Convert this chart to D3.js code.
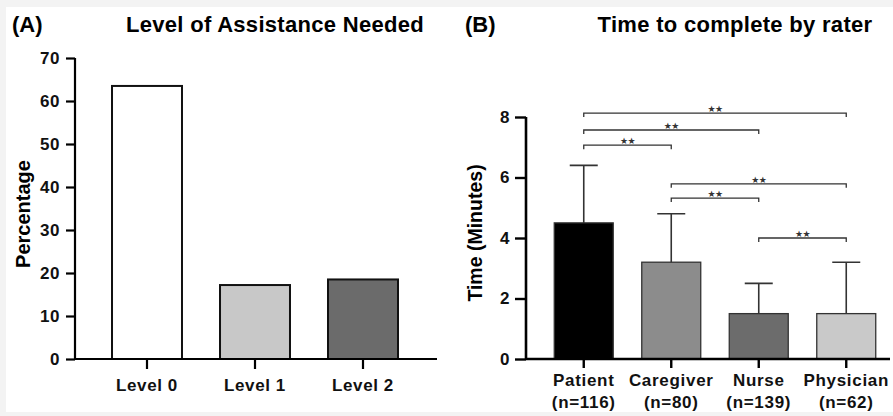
<!DOCTYPE html>
<html>
<head>
<meta charset="utf-8">
<script src="https://cdn.jsdelivr.net/npm/d3@7"></script>
<style>
  body { margin: 0; background: #f3f3f3; }
  svg { display: block; font-family: "Liberation Sans", Arial, sans-serif; font-weight: bold; }
</style>
</head>
<body>
<svg id="chart" width="893" height="416"></svg>
<script>
// panel A data
var levels = ["Level 0", "Level 1", "Level 2"];
var levelPct = [63.5, 17.2, 18.5];
var pctTicks = [0, 10, 20, 30, 40, 50, 60, 70];

// panel B data
var raters = ["Patient", "Caregiver", "Nurse", "Physician"];
var raterN = [116, 80, 139, 62];
var timeMean = [4.5, 3.2, 1.5, 1.5];
var timeUpper = [6.4, 4.8, 2.5, 3.2];   // mean + SD
var timeTicks = [0, 2, 4, 6, 8];

// significance brackets (index pairs + height in minutes)
var sigFrom = [0, 0, 0, 1, 1, 2];
var sigTo = [3, 2, 1, 3, 2, 3];
var sigLevel = [8.13, 7.57, 7.07, 5.79, 5.32, 4.0];
var sigLabel = "★★";

// styles
var levelFill = ["#ffffff", "#c8c8c8", "#6b6b6b"];
var raterFill = ["#000000", "#8c8c8c", "#6c6c6c", "#c9c9c9"];

var svg = d3.select("#chart");

svg.append("rect")
  .attr("x", 6).attr("y", 7)
  .attr("width", 887).attr("height", 405)
  .attr("fill", "#ffffff");

function styleTicks(ax, size) {
  ax.selectAll(".tick text")
    .style("font-size", size + "px")
    .style("font-family", "Liberation Sans, Arial")
    .style("font-weight", "bold")
    .style("letter-spacing", "0.6px")
    .attr("fill", "#111");
}

// ---------- panel A ----------
var yA = d3.scaleLinear().domain([0, 70]).range([359, 58]);
var xA = d3.scaleBand().domain(levels).range([93, 417])
  .paddingInner(0.352).paddingOuter(0.176);

svg.append("text").attr("x", 12).attr("y", 32)
  .style("font-size", "22px").text("(A)");
svg.append("text").attr("x", 275).attr("y", 32)
  .attr("text-anchor", "middle")
  .style("font-size", "22px").style("letter-spacing", "0.3px")
  .text("Level of Assistance Needed");

svg.append("g").selectAll("rect")
  .data(levels)
  .enter().append("rect")
  .attr("x", function(d) { return xA(d); })
  .attr("y", function(d, i) { return yA(levelPct[i]); })
  .attr("width", xA.bandwidth())
  .attr("height", function(d, i) { return yA(0) - yA(levelPct[i]); })
  .attr("fill", function(d, i) { return levelFill[i]; })
  .attr("stroke", "#111")
  .attr("stroke-width", 2);

var axA = svg.append("g")
  .attr("transform", "translate(75,0)")
  .call(d3.axisLeft(yA).tickValues(pctTicks).tickSize(9).tickPadding(6));
axA.select(".domain").attr("stroke-width", 2.2).attr("d", "M0," + yA(70) + "V" + yA(0));
axA.selectAll(".tick line").attr("stroke-width", 2.2);
styleTicks(axA, 17);

var axAx = svg.append("g")
  .attr("transform", "translate(0," + yA(0) + ")")
  .call(d3.axisBottom(xA).tickSize(10).tickPadding(10));
axAx.select(".domain").attr("stroke-width", 2.2).attr("d", "M75,0H437");
axAx.selectAll(".tick line").attr("stroke-width", 2.2);
styleTicks(axAx, 17);

svg.append("text")
  .attr("transform", "translate(30,214) rotate(-90)")
  .attr("text-anchor", "middle")
  .style("font-size", "20px")
  .text("Percentage");

// ---------- panel B ----------
var yB = d3.scaleLinear().domain([0, 8]).range([359, 117]);
var xB = d3.scaleBand().domain(raters).range([540, 890])
  .paddingInner(0.326).paddingOuter(0.163);

svg.append("text").attr("x", 465).attr("y", 32)
  .style("font-size", "22px").text("(B)");
svg.append("text").attr("x", 735).attr("y", 32)
  .attr("text-anchor", "middle")
  .style("font-size", "22px").style("letter-spacing", "0.3px")
  .text("Time to complete by rater");

svg.append("g").selectAll("rect")
  .data(raters)
  .enter().append("rect")
  .attr("x", function(d) { return xB(d); })
  .attr("y", function(d, i) { return yB(timeMean[i]); })
  .attr("width", xB.bandwidth())
  .attr("height", function(d, i) { return yB(0) - yB(timeMean[i]); })
  .attr("fill", function(d, i) { return raterFill[i]; })
  .attr("stroke", "#333")
  .attr("stroke-width", 1.3);

// error bars (upper only)
var eb = svg.append("g").attr("stroke", "#333").attr("stroke-width", 1.6).attr("fill", "none");
raters.forEach(function(r, i) {
  var cx = xB(r) + xB.bandwidth() / 2;
  eb.append("path")
    .attr("d", "M" + cx + "," + yB(timeMean[i]) + "V" + yB(timeUpper[i]) +
               "M" + (cx - 14) + "," + yB(timeUpper[i]) + "H" + (cx + 14));
});

var axB = svg.append("g")
  .attr("transform", "translate(526,0)")
  .call(d3.axisLeft(yB).tickValues(timeTicks).tickSize(11).tickPadding(5));
axB.select(".domain").attr("stroke-width", 2.6).attr("d", "M0," + yB(8) + "V" + yB(0));
axB.selectAll(".tick line").attr("stroke-width", 2.4);
styleTicks(axB, 17);

var axBx = svg.append("g")
  .attr("transform", "translate(0," + yB(0) + ")")
  .call(d3.axisBottom(xB).tickSize(9).tickFormat(""));
axBx.select(".domain").attr("stroke-width", 2.6).attr("d", "M526,0H890");
axBx.selectAll(".tick line").attr("stroke-width", 2.4);

var xlab = svg.append("g").attr("text-anchor", "middle")
  .style("font-size", "17px").style("letter-spacing", "0.7px").attr("fill", "#111");
raters.forEach(function(r, i) {
  var cx = xB(r) + xB.bandwidth() / 2;
  xlab.append("text").attr("x", cx).attr("y", 386).text(r);
  xlab.append("text").attr("x", cx).attr("y", 408).text("(n=" + raterN[i] + ")");
});

svg.append("text")
  .attr("transform", "translate(482,233) rotate(-90)")
  .attr("text-anchor", "middle")
  .style("font-size", "19.5px")
  .text("Time (Minutes)");

// significance brackets
var br = svg.append("g");
sigFrom.forEach(function(f, i) {
  var x1 = xB(raters[f]) + xB.bandwidth() / 2;
  var x2 = xB(raters[sigTo[i]]) + xB.bandwidth() / 2;
  var y = yB(sigLevel[i]);
  br.append("path")
    .attr("d", "M" + x1 + "," + (y + 4) + "V" + y + "H" + x2 + "V" + (y + 4))
    .attr("fill", "none").attr("stroke", "#333").attr("stroke-width", 1.3);
  br.append("text")
    .attr("x", (x1 + x2) / 2).attr("y", y - 1)
    .attr("text-anchor", "middle")
    .style("font-family", "DejaVu Sans")
    .style("font-weight", "normal")
    .style("font-size", "9px")
    .style("letter-spacing", "-0.5px")
    .attr("fill", "#333")
    .text(sigLabel);
});
</script>
</body>
</html>
